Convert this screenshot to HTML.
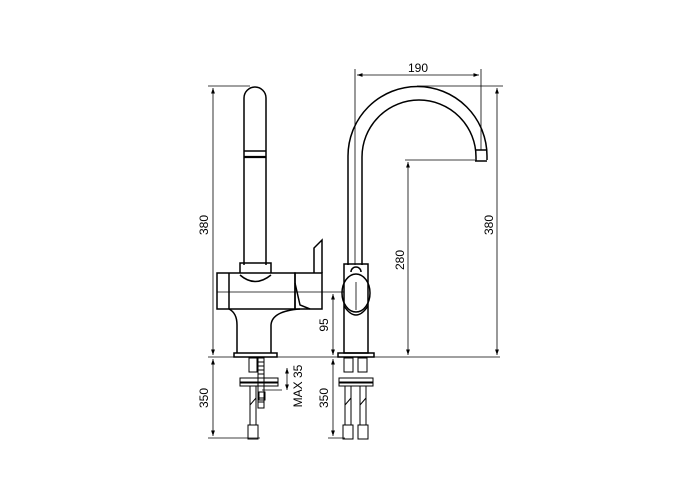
<!DOCTYPE html>
<html><head><style>
html,body{margin:0;padding:0;background:#fff;width:700px;height:500px;overflow:hidden}
text{font-family:"Liberation Sans",sans-serif;font-size:12px;fill:#000}
</style></head><body>
<svg width="700" height="500" viewBox="0 0 700 500" xmlns="http://www.w3.org/2000/svg">
<defs>
<marker id="a" viewBox="0 0 10 10" refX="10" refY="5" markerWidth="7" markerHeight="7" orient="auto-start-reverse"><path d="M0,1.5 L10,5 L0,8.5 z" fill="#000"/></marker>
</defs>
<g fill="none" stroke="#000" stroke-width="1.5">
<path d="M244,265 V98 A11,11 0 0 1 266,98 V265"/>
<line x1="244" y1="151" x2="266" y2="151"/>
<line x1="244" y1="157" x2="266" y2="157" stroke-width="2.2"/>
<path d="M240,273 V263 H271 V273"/>
<path d="M240,275 Q255,288 271,275"/>
<rect x="217" y="273" width="78" height="36"/>
<line x1="229" y1="273" x2="229" y2="309"/>
<rect x="295" y="273" width="27" height="36"/>
<path d="M314,273 V248 L322,240 V273"/>
<path d="M295,283 L300,305 L310,309"/>
<path d="M229,309 Q237,313 237,325 V353"/>
<path d="M300,309 Q272,311 271,325 V353"/>
<rect x="234" y="353" width="43" height="4"/>
<g stroke-width="1">
<rect x="249" y="358" width="8" height="14"/>
<rect x="258" y="358" width="6" height="50"/>
<line x1="258" y1="362" x2="264" y2="362"/><line x1="258" y1="366" x2="264" y2="366"/><line x1="258" y1="370" x2="264" y2="370"/><line x1="258" y1="374" x2="264" y2="374"/><line x1="258" y1="398" x2="264" y2="398"/><line x1="258" y1="402" x2="264" y2="402"/>
<rect x="240" y="378" width="38" height="4"/>
<rect x="240" y="383" width="38" height="3"/>
<path d="M250,386 V425 M256,386 V425"/>
<path d="M250,405 L256,398"/>
<rect x="259" y="392" width="6" height="8"/>
<rect x="248" y="425" width="10" height="14"/>
</g>
<path d="M348,265 V156 A69.5,69.5 0 0 1 487,156 V160"/>
<path d="M362,265 V157 A57,57 0 0 1 476,157 V161"/>
<path d="M475,150 H487 M475,161 H487"/>
<rect x="344" y="264" width="24" height="89"/>
<ellipse cx="356" cy="293" rx="14" ry="19"/>
<path d="M344,306 Q356,324 368,306"/>
<path d="M351,272 A5,5 0 0 1 361,272"/>
<rect x="338" y="353" width="36" height="4"/>
<g stroke-width="1">
<rect x="344" y="358" width="9" height="14"/><rect x="358" y="358" width="9" height="14"/>
<rect x="339" y="378" width="34" height="4"/>
<rect x="339" y="383" width="34" height="3"/>
<path d="M345,386 V425 M351,386 V425 M360,386 V425 M366,386 V425"/>
<path d="M345,405 L351,398 M360,405 L366,398"/>
<rect x="343" y="425" width="10" height="14"/><rect x="358" y="425" width="10" height="14"/>
</g>
</g>
<g fill="none" stroke="#000" stroke-width="0.8">
<line x1="208" y1="357" x2="500" y2="357"/>
<line x1="208" y1="86" x2="250" y2="86"/>
<line x1="208" y1="438" x2="260" y2="438"/>
<line x1="328" y1="438" x2="345" y2="438"/>
<line x1="217" y1="292" x2="344" y2="292"/>
<line x1="356" y1="282" x2="356" y2="310"/>
<line x1="262" y1="390" x2="282" y2="390"/>
<line x1="355" y1="69" x2="355" y2="265"/>
<line x1="481" y1="69" x2="481" y2="150"/>
<line x1="405" y1="160" x2="475" y2="160"/>
<line x1="417" y1="86" x2="503" y2="86"/>
<line x1="213" y1="88" x2="213" y2="355" marker-start="url(#a)" marker-end="url(#a)"/>
<line x1="213" y1="359" x2="213" y2="436" marker-start="url(#a)" marker-end="url(#a)"/>
<line x1="333" y1="294" x2="333" y2="355" marker-start="url(#a)" marker-end="url(#a)"/>
<line x1="333" y1="359" x2="333" y2="436" marker-start="url(#a)" marker-end="url(#a)"/>
<line x1="287" y1="368" x2="287" y2="390" marker-start="url(#a)" marker-end="url(#a)"/>
<line x1="357" y1="75" x2="479" y2="75" marker-start="url(#a)" marker-end="url(#a)"/>
<line x1="408" y1="162" x2="408" y2="355" marker-start="url(#a)" marker-end="url(#a)"/>
<line x1="497" y1="88" x2="497" y2="355" marker-start="url(#a)" marker-end="url(#a)"/>
</g>
<text x="418" y="72" text-anchor="middle">190</text>
<text transform="translate(208,225) rotate(-90)" text-anchor="middle">380</text>
<text transform="translate(328,325) rotate(-90)" text-anchor="middle">95</text>
<text transform="translate(404,260) rotate(-90)" text-anchor="middle">280</text>
<text transform="translate(493,225) rotate(-90)" text-anchor="middle">380</text>
<text transform="translate(208,398) rotate(-90)" text-anchor="middle">350</text>
<text transform="translate(328,398) rotate(-90)" text-anchor="middle">350</text>
<text transform="translate(302,386) rotate(-90)" text-anchor="middle">MAX 35</text>
</svg>
</body></html>
